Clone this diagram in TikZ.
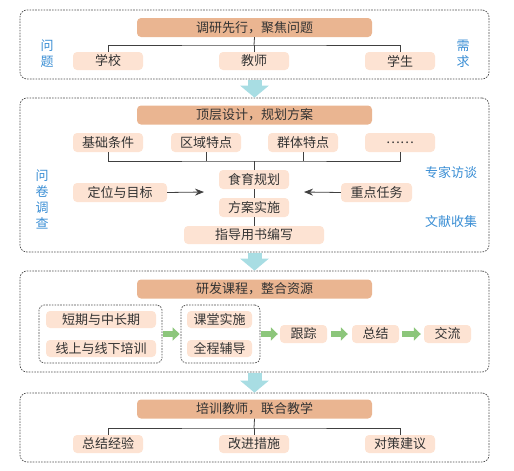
\documentclass[tikz,border=0pt]{standalone}
\usepackage{fontspec}
\setmainfont{Noto Sans CJK SC}
\usetikzlibrary{arrows.meta}
\definecolor{titlec}{HTML}{EAB591}
\definecolor{itemc}{HTML}{FDE3D3}
\definecolor{bluec}{HTML}{3A8ED4}
\definecolor{cyanc}{HTML}{A8DDE3}
\definecolor{greenc}{HTML}{8CC67B}
\definecolor{textc}{HTML}{333333}
\tikzset{
  frame/.style={draw=black!70,dash pattern=on 1.6pt off 1.2pt,line width=0.7pt,rounded corners=7pt,
    minimum width=469pt,inner sep=0pt},
  subframe/.style={draw=black!70,dash pattern=on 1.6pt off 1.2pt,line width=0.7pt,rounded corners=5pt,inner sep=0pt},
  title/.style={fill=titlec,rounded corners=4pt,minimum width=235pt,minimum height=19pt,
    inner sep=0pt,text=textc,font=\fontsize{13}{15}\selectfont},
  item/.style={fill=itemc,rounded corners=4pt,minimum width=70pt,minimum height=18pt,
    inner sep=0pt,text=textc,font=\fontsize{13}{15}\selectfont},
  side/.style={text=bluec,align=center,inner sep=0pt,font=\fontsize{13}{16}\selectfont},
  link/.style={draw=black!75,line width=0.8pt},
  garrow/.style={greenc,line width=6pt,-{Triangle[length=7pt,width=13pt]}},
  carrow/.style={cyanc,line width=14pt,-{Triangle[length=12pt,width=28pt]}}
}
\begin{document}
\begin{tikzpicture}[x=1pt,y=-1pt]
\useasboundingbox (0,0) rectangle (514,471);
% frames
\node[frame,minimum height=69pt] (f1) at (254.5,44.5) {};
\node[frame,minimum height=154pt] (f2) at (254.5,175) {};
\node[frame,minimum height=101pt] (f3) at (254.5,321.5) {};
\node[frame,minimum height=69pt] (f4) at (254.5,427.5) {};
\foreach \a/\b in {f1/f2,f2/f3,f3/f4}
  \draw[carrow,shorten <=1pt] (\a.south) -- (\b.north);
% 1
\node[title] (t1) at (254.5,27.5) {调研先行，聚焦问题};
\node[item] (s1) at (108,61) {学校};
\node[item] (s2) at (254,61) {教师};
\node[item] (s3) at (400,61) {学生};
\coordinate (j1) at (254,45);
\draw[link] (t1.south) -- (j1);
\draw[link] (s1.north) |- (j1) -| (s3.north);
\draw[link] (j1) -- (s2.north);
\node[side] (q1) at (47,54) {问\\题};
\node[side] (q2) at (463,54) {需\\求};
% 2
\node[title] (t2) at (254.5,115) {顶层设计，规划方案};
\node[item,minimum height=19pt] (r1) at (108,142.5) {基础条件};
\node[item,minimum height=19pt] (r2) at (206,142.5) {区域特点};
\node[item,minimum height=19pt] (r3) at (303,142.5) {群体特点};
\node[item,minimum height=19pt] (r4) at (400,142.5) {……};
\coordinate (j2) at (254,161);
\draw[link] (r1.south) |- (j2) -| (r4.south);
\draw[link] (r2.south) -- (r2.south |- j2);
\draw[link] (r3.south) -- (r3.south |- j2);
\node[item,minimum height=19pt] (p1) at (254,179.5) {食育规划};
\node[item,minimum height=19pt] (p2) at (254,207.5) {方案实施};
\node[item,minimum width=140pt] (p3) at (254,235) {指导用书编写};
\draw[link] (j2) -- (p1.north);
\draw[link] (p1.south) -- (p2.north);
\draw[link] (p2.south) -- (p3.north);
\node[item,minimum width=94pt,minimum height=19pt] (d1) at (120,192.5) {定位与目标};
\node[item,minimum width=71pt,minimum height=19pt] (d2) at (376.5,192.5) {重点任务};
\coordinate (la) at (204,192);
\coordinate (ra) at (304,192);
\draw[link,-{Stealth[length=9pt,width=7pt]}] (d1.east) -- (la);
\draw[link,-{Stealth[length=9pt,width=7pt]}] (d2.west) -- (ra);
\node[side] (w1) at (42,199) {问\\卷\\调\\查};
\node[side] (w2) at (451,173) {专家访谈};
\node[side] (w3) at (451,222) {文献收集};
% 3
\node[title] (t3) at (254.5,289) {研发课程，整合资源};
\node[subframe,minimum width=123pt,minimum height=58pt] (g1) at (100.5,334) {};
\node[subframe,minimum width=79pt,minimum height=58pt] (g2) at (220.5,334) {};
\node[item,minimum width=110pt,minimum height=17pt] (k1) at (101,319.5) {短期与中长期};
\node[item,minimum width=110pt,minimum height=17pt] (k2) at (101,348.5) {线上与线下培训};
\node[item,minimum width=65pt,minimum height=17pt] (k3) at (219.5,319.5) {课堂实施};
\node[item,minimum width=65pt,minimum height=17pt] (k4) at (219.5,348.5) {全程辅导};
\node[item,minimum width=47pt] (e1) at (303.5,334) {跟踪};
\node[item,minimum width=47pt] (e2) at (375.5,334) {总结};
\node[item,minimum width=47pt] (e3) at (447.5,334) {交流};
\draw[garrow,shorten <=1pt,shorten >=1pt] (g1.east) -- (g2.west);
\draw[garrow,shorten <=1pt,shorten >=2pt] (g2.east) -- (e1.west);
\draw[garrow,shorten <=4pt,shorten >=4pt] (e1.east) -- (e2.west);
\draw[garrow,shorten <=3pt,shorten >=3pt] (e2.east) -- (e3.west);
% 4
\node[title] (t4) at (254.5,409) {培训教师，联合教学};
\node[item] (u1) at (108,444) {总结经验};
\node[item] (u2) at (254,444) {改进措施};
\node[item] (u3) at (400,444) {对策建议};
\coordinate (j4) at (254,428);
\draw[link] (t4.south) -- (j4);
\draw[link] (u1.north) |- (j4) -| (u3.north);
\draw[link] (j4) -- (u2.north);
\end{tikzpicture}
\end{document}
